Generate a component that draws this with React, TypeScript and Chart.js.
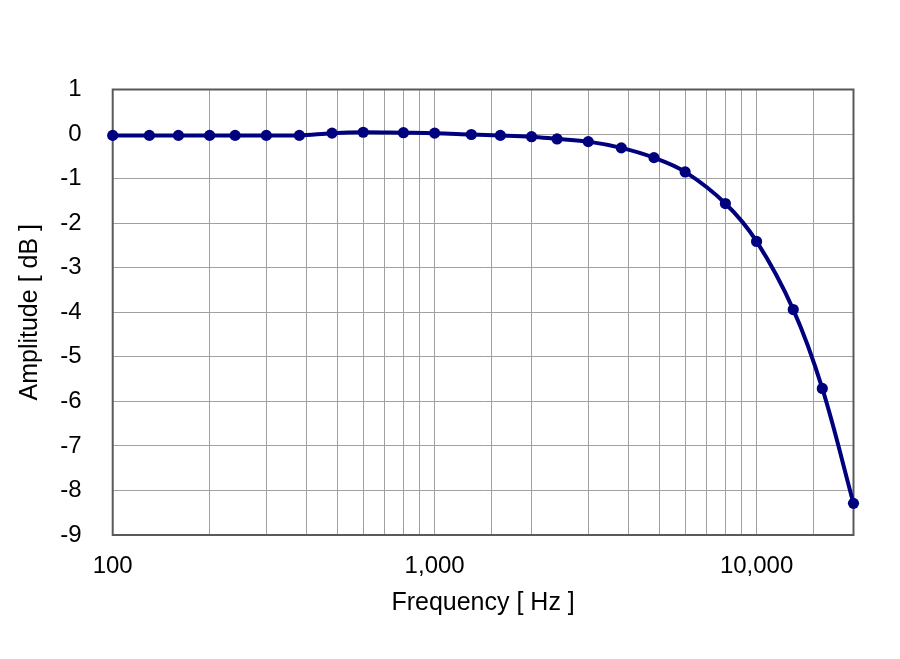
import React, { useEffect, useRef } from "react";
import { Chart, registerables } from "chart.js";

Chart.register(...registerables);

const frequencies = [100, 130, 160, 200, 240, 300, 380, 480, 600, 800, 1000, 1300, 1600, 2000, 2400, 3000, 3800, 4800, 6000, 8000, 10000, 13000, 16000, 20000];
const amplitudes = [-0.03, -0.03, -0.03, -0.03, -0.03, -0.03, -0.03, 0.02, 0.04, 0.03, 0.02, -0.01, -0.03, -0.06, -0.11, -0.17, -0.31, -0.53, -0.85, -1.56, -2.41, -3.94, -5.71, -8.29];
const xMajorTicks = [100, 1000, 10000];
const yRange = { min: -9, max: 1 };

const FONT = '"Liberation Sans", Arial, sans-serif';

const borderUnderPlugin = {
  id: "plotBorderUnder",
  beforeDatasetsDraw(chart: any) {
    const { ctx, chartArea } = chart;
    ctx.save();
    ctx.strokeStyle = "#595959";
    ctx.lineWidth = 2;
    ctx.strokeRect(chartArea.left, chartArea.top, chartArea.right - chartArea.left, chartArea.bottom - chartArea.top);
    ctx.restore();
  },
};

export default function App() {
  const ref = useRef<HTMLCanvasElement | null>(null);

  useEffect(() => {
    if (!ref.current) return;
    const data = frequencies.map((f, i) => ({ x: f, y: amplitudes[i] }));
    const chart = new Chart(ref.current, {
      type: "line",
      data: {
        datasets: [
          {
            data,
            borderColor: "#00007f",
            backgroundColor: "#00007f",
            borderWidth: 4,
            pointRadius: 5.6,
            pointBorderWidth: 0,
            pointBackgroundColor: "#00007f",
            tension: 0.35,
            fill: false,
            clip: false as any,
          },
        ],
      },
      options: {
        animation: false,
        responsive: false,
        layout: { padding: { top: 89.5, right: 46.5, left: 0, bottom: 0 } },
        plugins: {
          legend: { display: false },
          tooltip: { enabled: false },
        },
        scales: {
          x: {
            type: "logarithmic",
            min: 100,
            max: 20000,
            border: { display: false },
            grid: { color: "#a0a0a0", lineWidth: 1, drawTicks: false },
            ticks: {
              autoSkip: false,
              maxRotation: 0,
              padding: 17,
              color: "#000",
              font: { family: FONT, size: 24 },
              callback: (v: any) => (xMajorTicks.includes(Number(v)) ? Number(v).toLocaleString("en-US") : ""),
            },
            title: {
              display: true,
              text: "Frequency [ Hz ]",
              color: "#000",
              font: { family: FONT, size: 25 },
              padding: { top: 0, bottom: 41 },
            },
            afterFit: (scale: any) => {
              scale.height = 124;
            },
          },
          y: {
            min: yRange.min,
            max: yRange.max,
            border: { display: false },
            grid: { color: "#a0a0a0", lineWidth: 1, drawTicks: false },
            ticks: {
              stepSize: 1,
              padding: 31,
              color: "#000",
              font: { family: FONT, size: 24 },
            },
            title: {
              display: true,
              text: "Amplitude [ dB ]",
              color: "#000",
              font: { family: FONT, size: 25 },
              padding: { top: 15.5, bottom: 0 },
            },
            afterFit: (scale: any) => {
              scale.width = 112.7;
            },
          },
        },
      },
      plugins: [borderUnderPlugin],
    });
    return () => chart.destroy();
  }, []);

  return (
    <div style={{ position: "absolute", left: 0, top: 0, width: 900, height: 659, background: "#fff" }}>
      <canvas ref={ref} width={900} height={659} style={{ display: "block" }} />
    </div>
  );
}
